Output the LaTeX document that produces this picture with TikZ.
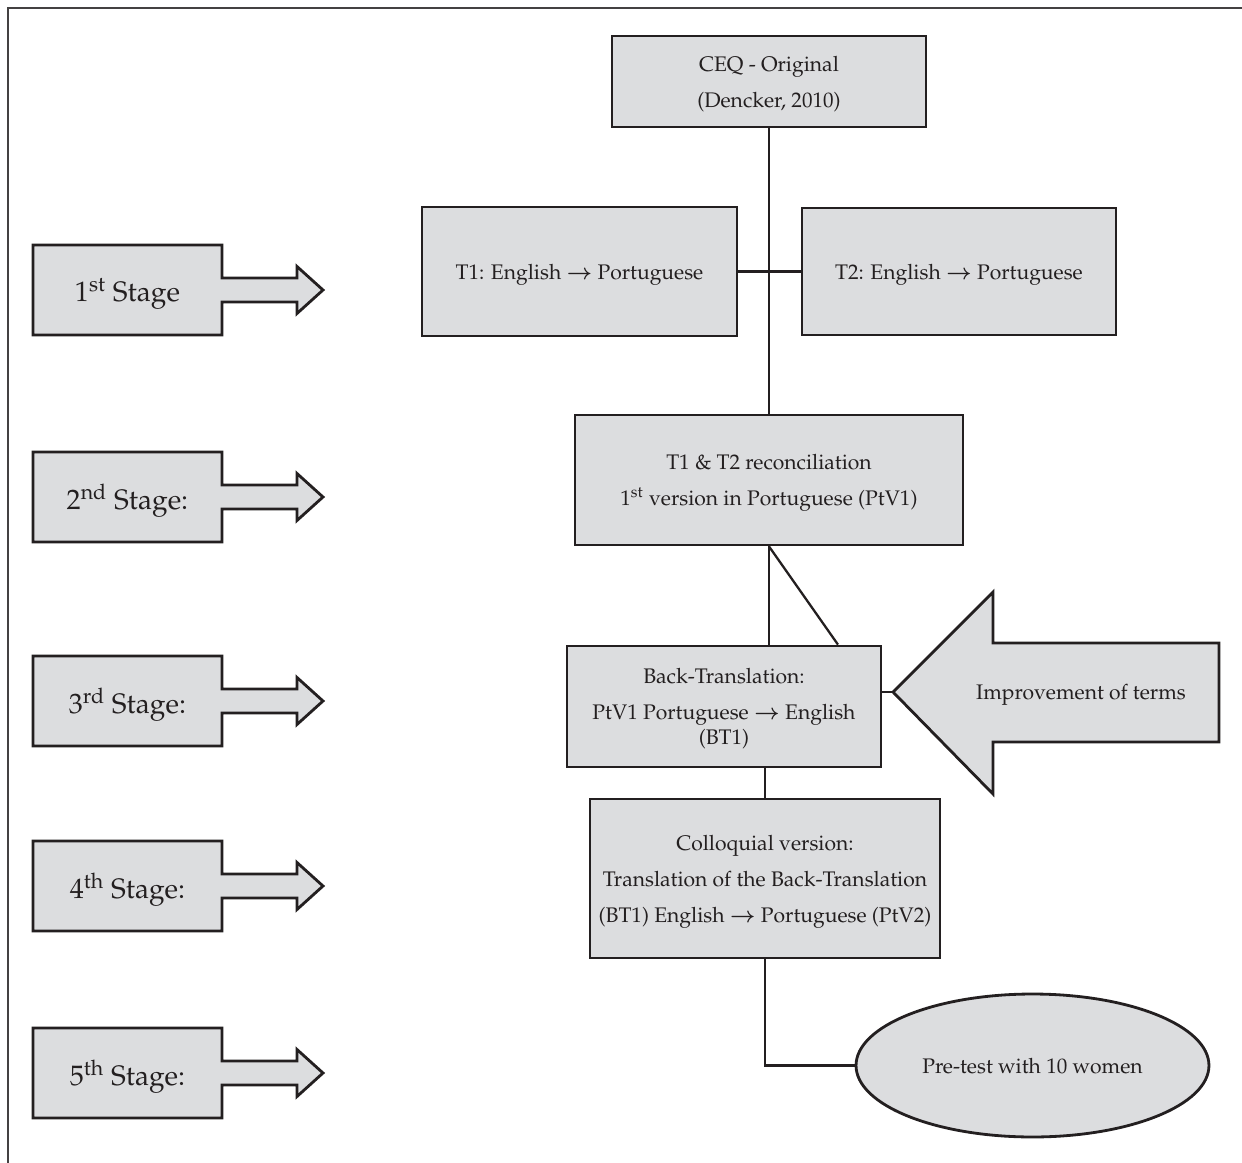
\documentclass[tikz,border=0pt]{standalone}
\usepackage[T1]{fontenc}
\usepackage{mathpazo}
\usepackage{tikz}
\usetikzlibrary{shapes.geometric}

\definecolor{boxgray}{RGB}{220,221,223}
\definecolor{inkgray}{RGB}{35,31,32}

\newcommand{\toarrow}{{\boldmath$\rightarrow$}}

\tikzset{
  flowbox/.style={draw=inkgray, fill=boxgray, line width=1.6pt, inner sep=0pt,
    align=center, text=inkgray, text depth=0pt, font=\fontsize{12}{14.5}\selectfont},
  shapeline/.style={draw=inkgray, fill=boxgray, line width=1.6pt},
  link/.style={draw=inkgray, line width=1.3pt},
  stagelabel/.style={text=inkgray, text depth=0pt, font=\fontsize{16}{19}\selectfont},
  termlabel/.style={text=inkgray, text depth=0pt, font=\fontsize{12}{14.5}\selectfont},
}

\begin{document}
\begin{tikzpicture}[x=0.02cm,y=-0.02cm]
        \useasboundingbox (0,0) rectangle (1242,1163);

        % frame
        \draw[inkgray!85, line width=1.2pt] (8,1163) -- (8,8) -- (1242,8);

        % stages
        \foreach \y/\n/\lab in {290/1/{1\textsuperscript{st} Stage},
            497/2/{2\textsuperscript{nd} Stage:}, 701/3/{3\textsuperscript{rd} Stage:},
            886/4/{4\textsuperscript{th} Stage:}, 1073/5/{5\textsuperscript{th} Stage:}}{
          \filldraw[shapeline] (33,\y-45) -- (222,\y-45) -- (222,\y-12) -- (297,\y-12)
            -- (297,\y-23.5) -- (323,\y) -- (297,\y+23.5) -- (297,\y+12) -- (222,\y+12)
            -- (222,\y+45) -- (33,\y+45) -- cycle;
          \node[stagelabel] (stage\n) at (127.5,\y) {\lab};
        }

        % CEQ
        \node[flowbox, minimum width=6.28cm, minimum height=1.82cm] (ceq) at (769,81.5)
          {CEQ - Original\\[6pt](Dencker, 2010)};

        % T1, T2
        \node[flowbox, minimum width=6.3cm, minimum height=2.58cm] (t1) at (579.5,271.5)
          {T1: English \toarrow{} Portuguese};
        \node[flowbox, minimum width=6.28cm, minimum height=2.54cm] (t2) at (959,271.5)
          {T2: English \toarrow{} Portuguese};

        % reconciliation
        \node[flowbox, minimum width=7.76cm, minimum height=2.6cm] (recon) at (769,480)
          {T1 \& T2 reconciliation\\[6pt]1\textsuperscript{st} version in Portuguese (PtV1)};

        % back-translation
        \node[flowbox, minimum width=6.28cm, minimum height=2.42cm] (bt) at (724,706.5)
          {Back-Translation:\\[6pt]PtV1 Portuguese \toarrow{} English\\(BT1)};

        % improvement
        \filldraw[shapeline] (893,692) coordinate (tip) -- (993,592) -- (993,643)
          -- (1219,643) -- (1219,742) -- (993,742) -- (993,794) -- cycle;
        \node[termlabel] (improve) at (1081,692) {Improvement of terms};

        % colloquial
        \node[flowbox, minimum width=7cm, minimum height=3.18cm] (coll) at (765,878.5)
          {Colloquial version:\\[6pt]Translation of the Back-Translation\\[6pt](BT1) English
          \toarrow{} Portuguese (PtV2)};

        % pre-test
        \node[flowbox, ellipse, minimum width=7.06cm, minimum height=2.86cm] (pretest)
          at (1032.5,1065.5) {Pre-test with 10 women};

        % links
        \draw[link] (ceq) -- (recon);
        \draw[link] (t1) -- (t2);
        \draw[link] (recon.south) -- (recon.south |- bt.north);
        \draw[link] (recon.south) -- ([xshift=2.28cm]bt.north);
        \draw[link] (bt.east |- tip) -- (tip);
        \draw[link] (bt.south -| coll.north) -- (coll.north);
        \draw[link] (coll.south) |- (pretest.west);
\end{tikzpicture}
\end{document}
